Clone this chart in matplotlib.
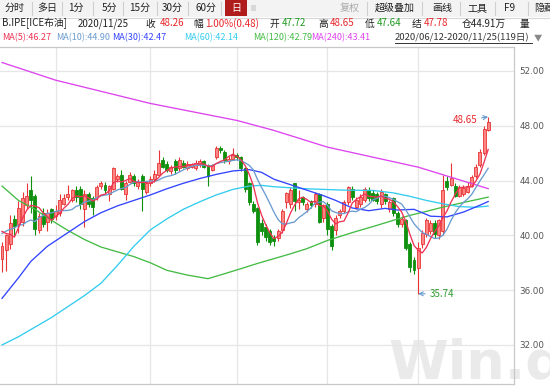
import matplotlib
matplotlib.use("Agg")
import matplotlib.pyplot as plt
from matplotlib.patches import Rectangle
import pandas as pd
import numpy as np

W, H = 550, 387
CJK = ['Noto Sans CJK SC', 'DejaVu Sans']

# ---------------- data ----------------
prior_closes = [38.32, 39.57, 39.79, 39.99, 42.30, 40.80, 41.18, 41.73, 38.55]

opens = [38.3, 38.9, 39.4, 41.2, 40.8, 41.0, 42.2, 43.3, 42.9, 40.4,
         41.6, 41.0, 41.9, 41.4, 41.6, 42.3, 42.8, 42.6, 43.3, 43.4,
         41.9, 43.0, 42.7, 42.8, 43.6, 43.7, 43.0, 43.4, 44.1, 44.4,
         43.0, 43.9, 44.3, 43.6, 44.3, 43.2, 43.8, 44.1, 44.4, 45.5,
         45.2, 44.7, 45.4, 44.9, 45.3, 44.9, 45.0, 44.9, 45.2, 45.4,
         45.1, 44.8, 45.7, 46.4, 46.1, 45.4, 45.6, 45.9, 45.7, 44.9,
         43.8, 42.3, 42.0, 40.9, 40.6, 40.3, 39.8, 39.8, 40.4, 42.4,
         42.3, 43.8, 42.4, 42.8, 41.9, 42.5, 42.3, 43.0, 41.3, 42.3,
         40.7, 40.4, 41.5, 41.8, 42.4, 43.4, 42.1, 42.3, 42.6, 43.3,
         43.1, 43.0, 42.3, 43.0, 41.9, 42.7, 41.6, 40.8, 41.1, 39.4,
         38.2, 37.6, 39.4, 40.1, 40.3, 40.9, 40.0, 40.3, 44.0, 43.7,
         43.6, 42.9, 43.0, 43.2, 43.6, 44.3, 45.1, 46.0, 47.72]
highs = [39.5, 40.1, 41.5, 41.5, 42.5, 43.2, 43.8, 44.3, 43.0, 41.6,
         42.0, 41.9, 42.0, 42.2, 43.0, 43.0, 43.7, 43.4, 43.6, 43.6,
         43.3, 43.2, 42.9, 43.7, 44.0, 43.9, 43.7, 45.0, 44.5, 44.8,
         44.0, 44.6, 44.5, 44.1, 44.5, 44.0, 44.3, 44.8, 46.2, 45.7,
         45.4, 45.1, 45.6, 45.7, 45.5, 45.4, 45.3, 45.5, 45.6, 45.5,
         45.2, 45.2, 46.5, 46.5, 46.2, 45.8, 46.4, 46.0, 45.8, 45.0,
         43.9, 42.5, 42.1, 41.2, 40.8, 40.5, 40.0, 40.5, 41.9, 43.2,
         43.5, 43.8, 43.3, 42.9, 42.4, 42.6, 43.2, 43.1, 42.3, 42.4,
         40.8, 41.5, 41.9, 42.6, 43.6, 43.6, 42.8, 43.0, 43.5, 43.5,
         43.3, 43.2, 43.4, 43.1, 42.6, 42.8, 41.8, 41.4, 41.2, 39.5,
         38.4, 39.5, 40.4, 41.3, 41.1, 41.1, 41.2, 44.4, 44.3, 45.3,
         43.8, 43.7, 43.7, 43.9, 44.4, 45.2, 46.3, 48.0, 48.65]
lows = [37.3, 37.4, 39.0, 40.0, 40.2, 40.7, 41.9, 41.6, 40.0, 40.2,
        40.6, 40.3, 40.9, 41.1, 41.4, 42.2, 42.6, 42.4, 42.4, 41.9,
        40.6, 42.1, 41.5, 42.6, 43.4, 43.1, 42.5, 43.3, 43.9, 43.3,
        42.6, 43.8, 43.6, 43.4, 41.8, 43.0, 43.6, 43.9, 44.3, 44.9,
        44.6, 44.5, 44.5, 44.7, 44.9, 44.8, 44.9, 44.8, 45.0, 44.9,
        43.6, 44.7, 45.6, 46.0, 45.3, 45.2, 45.5, 45.5, 44.7, 43.2,
        42.2, 41.6, 39.3, 40.0, 39.6, 39.3, 39.2, 39.6, 40.2, 42.0,
        42.0, 41.8, 41.9, 42.2, 41.7, 42.0, 42.1, 40.9, 41.0, 40.0,
        38.9, 40.0, 41.3, 41.6, 42.2, 42.6, 41.9, 42.1, 42.4, 42.5,
        42.5, 42.3, 42.0, 42.3, 41.7, 41.4, 40.6, 40.6, 38.9, 37.3,
        37.2, 35.74, 39.1, 39.9, 40.1, 39.8, 39.7, 40.0, 43.3, 43.6,
        42.8, 42.8, 42.9, 43.1, 43.5, 44.2, 45.0, 45.9, 47.64]
closes = [39.2, 40.0, 40.9, 40.7, 42.0, 42.7, 42.9, 42.6, 40.5, 41.4,
          40.8, 41.6, 41.2, 41.8, 42.6, 42.7, 43.0, 43.3, 42.8, 42.3,
          43.0, 42.3, 42.1, 43.5, 43.8, 43.3, 43.6, 44.9, 44.3, 43.4,
          43.8, 44.4, 43.8, 43.9, 43.4, 43.8, 44.1, 44.5, 45.3, 45.0,
          44.8, 45.0, 44.8, 45.5, 45.0, 45.2, 45.2, 45.3, 45.4, 45.0,
          44.3, 45.1, 46.4, 46.2, 45.5, 45.6, 45.9, 45.7, 44.9, 43.4,
          42.4, 41.8, 39.5, 40.3, 39.9, 39.5, 39.6, 40.3, 41.8, 43.1,
          43.3, 42.5, 42.6, 42.4, 42.3, 42.2, 43.0, 41.0, 42.2, 40.5,
          39.2, 41.3, 41.8, 42.4, 43.5, 42.8, 42.6, 42.8, 43.4, 42.7,
          42.6, 42.5, 43.2, 42.5, 42.4, 41.6, 40.8, 41.2, 39.1, 37.7,
          37.5, 39.1, 40.2, 41.1, 40.9, 40.1, 41.1, 43.3, 43.5, 44.2,
          42.9, 43.5, 43.45, 43.6, 44.25, 45.0, 46.06, 47.78, 48.26]

# long moving averages (candle index, value)
ma30_idx = [0, 4, 7, 11, 16, 20, 24, 28, 32, 36, 40, 44, 48, 52, 56, 60, 63, 66, 70, 74, 78,
            81, 85, 89, 93, 96, 100, 104, 108, 112, 116, 118]
ma30_val = [35.4, 36.9, 38.1, 39.2, 40.2, 41.0, 41.65, 42.15, 42.55, 42.95, 43.4, 43.8, 44.15,
            44.45, 44.7, 44.8, 44.6, 44.1, 43.7, 43.3, 42.9, 42.55, 42.0, 41.8, 41.97, 41.85,
            41.9, 41.4, 41.35, 41.7, 42.2, 42.47]
ma60_idx = [0, 4, 8, 12, 16, 20, 24, 28, 32, 36, 40, 44, 48, 52, 56, 60, 63, 66, 74, 83, 90,
            95, 99, 103, 107, 111, 115, 118]
ma60_val = [32.0, 32.6, 33.3, 34.0, 34.8, 35.6, 36.5, 37.8, 39.2, 40.4, 41.2, 41.9, 42.45,
            42.95, 43.35, 43.6, 43.65, 43.55, 43.4, 43.3, 43.28, 43.1, 42.85, 42.55, 42.3, 42.1,
            42.05, 42.14]
ma120_idx = [0, 4, 8, 12, 16, 20, 24, 28, 32, 36, 40, 45, 50, 54, 58, 62, 66, 70, 74, 79,
             85, 91, 95, 99, 103, 107, 112, 118]
ma120_val = [43.6, 42.55, 41.9, 41.1, 40.36, 39.7, 39.15, 38.8, 38.45, 38.0, 37.45, 37.1, 36.84,
             37.2, 37.57, 37.95, 38.3, 38.65, 39.03, 39.63, 40.2, 40.73, 41.1, 41.46, 41.75,
             42.06, 42.4, 42.79]
ma240_idx = [0, 13, 36, 57, 66, 79, 101, 118]
ma240_val = [52.62, 51.33, 49.63, 48.39, 47.66, 46.44, 44.98, 43.41]

month_start_idx = [13, 36, 57, 79, 101]
y_ticks = [32, 36, 40, 44, 48, 52]

tabs = ['分时', '多日', '1分', '5分', '15分', '30分', '60分', '日']
right_tabs = ['复权', '超级叠加', '画线', '工具', 'F9', '隐藏']

# ---------------- figure ----------------
fig = plt.figure(figsize=(W / 100, H / 100), dpi=100)
fig.patch.set_facecolor('white')


def fx(x):
    return x / W


def fy(y):
    return 1 - y / H


def T(x, y, s, color='#222222', size=7.0, ha='left', **kw):
    fig.text(fx(x), fy(y), s, color=color, fontsize=size, ha=ha, va='center',
             family=CJK, **kw)


# toolbar
fig.patches.append(Rectangle((0, fy(17)), 1, 17 / H, transform=fig.transFigure,
                             facecolor='#f3f3f3', edgecolor='none', zorder=0))
fig.add_artist(plt.Line2D([0, 1], [fy(17.5), fy(17.5)], transform=fig.transFigure,
                          color='#d6d6d6', lw=0.8))
tab_cx = [15, 47, 76, 110, 140, 172, 206, 236]
for s, cx in zip(tabs, tab_cx):
    if s == '日':
        fig.patches.append(Rectangle((fx(225), fy(16)), 22 / W, 16 / H, transform=fig.transFigure,
                                     facecolor='#b01c1c', edgecolor='none', zorder=1))
        T(cx, 8, s, color='white', size=7.2, ha='center', zorder=2)
    else:
        T(cx, 8, s, color='#222222', size=7.2, ha='center')
for sx in [32, 62, 93, 123, 157, 188, 221, 367, 422, 460, 495, 528]:
    fig.add_artist(plt.Line2D([fx(sx), fx(sx)], [fy(2), fy(15)], transform=fig.transFigure,
                              color='#cfcfcf', lw=0.8))
fig.patches.append(Rectangle((fx(251), fy(11)), 5 / W, 6 / H, transform=fig.transFigure,
                             facecolor='#d8d8d8', edgecolor='none'))
rt_cx = [350, 395, 442, 477, 510]
for s, cx in zip(right_tabs[:5], rt_cx):
    T(cx, 8, s, color='#aaaaaa' if s == '复权' else '#222222', size=7.2, ha='center')
T(534, 8, right_tabs[5], size=7.2)

# info row
red, green = '#e8262a', '#1f9a1f'
info = [(2, 'B.IPE[ICE布油]', '#222222'), (78, '2020/11/25', '#222222'), (145, '收', '#222222'),
        (160, f'{closes[-1]:.2f}', red), (193, '幅', '#222222'), (205, '1.00%(0.48)', red),
        (269, '开', '#222222'), (282, f'{opens[-1]:.2f}', green), (318, '高', '#222222'),
        (330, f'{highs[-1]:.2f}', red), (365, '低', '#222222'), (377, f'{lows[-1]:.2f}', green),
        (412, '结', '#222222'), (424, f'{closes[-2]:.2f}', red), (462, '仓44.91万', '#222222'),
        (520, '量', '#222222')]
for x, s, c in info:
    T(x, 23.5, s, color=c, size=7.0)

# MA row
c_ma5, c_ma10, c_ma30, c_ma60, c_ma120, c_ma240 = '#ee3355', '#6a9bcf', '#3344ff', '#33ccee', '#44bb44', '#dd44ee'
all_close = pd.Series(prior_closes + closes)
ma5 = all_close.rolling(5).mean().iloc[len(prior_closes):].to_numpy()
ma10 = all_close.rolling(10).mean().iloc[len(prior_closes):].to_numpy()
ma_row = [(2, f'MA(5):{ma5[-1]:.2f}', c_ma5), (56, f'MA(10):{ma10[-1]:.2f}', c_ma10),
          (112, f'MA(30):{ma30_val[-1]:.2f}', c_ma30), (184, f'MA(60):{ma60_val[-1]:.2f}', c_ma60),
          (253, f'MA(120):{ma120_val[-1]:.2f}', c_ma120), (311, f'MA(240):{ma240_val[-1]:.2f}', c_ma240)]
for x, s, c in ma_row:
    T(x, 37.5, s, color=c, size=6.5)
T(395, 37.5, '2020/06/12-2020/11/25(119日)', color='#333333', size=6.8)
fig.add_artist(plt.Line2D([fx(395), fx(532)], [fy(43), fy(43)], transform=fig.transFigure,
                          color='#333333', lw=0.7))
T(534, 37.5, '▼', color='#888888', size=6.0)

# watermark
fig.text(fx(388), fy(378), 'Win.d', fontsize=39, fontweight='bold', color='#eaeaea',
         family='DejaVu Sans', ha='left', va='baseline', zorder=0)

# ---------------- chart ----------------
ax = fig.add_axes([0, fy(384), fx(514), (384 - 47) / H])
ax.set_zorder(1)
ax.patch.set_alpha(0)
n = len(closes)
idx = np.arange(n)
ax.set_xlim(-0.485, 124.27)
ax.set_ylim(29.15, 53.75)

ax.spines['left'].set_visible(False)
for s in ['right', 'top', 'bottom']:
    ax.spines[s].set_color('#c8c8c8')
    ax.spines[s].set_linewidth(0.9)

ax.set_xticks([])
ax.yaxis.tick_right()
ax.set_yticks(y_ticks)
ax.set_yticklabels([f'{v:.2f}' for v in y_ticks], fontsize=6.3, color='#555555', family='DejaVu Sans')
ax.tick_params(axis='y', length=0, pad=4)
for v in y_ticks:
    ax.axhline(v, color='#e6e6e6', lw=0.9, zorder=0)
for m in month_start_idx:
    ax.axvline(m, color='#e6e6e6', lw=0.9, zorder=0)

o = np.array(opens); h = np.array(highs); l = np.array(lows); c = np.array(closes)
up = c >= o
up_face, up_edge, dn_col = '#ff8585', '#e83434', '#0e900e'
ax.vlines(idx[up], l[up], h[up], color=up_edge, lw=0.8, zorder=2)
ax.vlines(idx[~up], l[~up], h[~up], color=dn_col, lw=0.8, zorder=2)
body_lo = np.minimum(o, c)
body_h = np.maximum(np.abs(c - o), 0.06)
ax.bar(idx[up], body_h[up], bottom=body_lo[up], width=0.72, facecolor=up_face,
       edgecolor=up_edge, linewidth=0.6, zorder=3)
ax.bar(idx[~up], body_h[~up], bottom=body_lo[~up], width=0.72, facecolor=dn_col,
       edgecolor=dn_col, linewidth=0.6, zorder=3)

lw = 0.95
ax.plot(ma240_idx, ma240_val, color=c_ma240, lw=lw, zorder=4)
ax.plot(ma120_idx, ma120_val, color=c_ma120, lw=lw, zorder=4)
ax.plot(ma60_idx, ma60_val, color=c_ma60, lw=lw, zorder=4)
ax.plot(ma30_idx, ma30_val, color=c_ma30, lw=lw, zorder=4)
ax.plot(idx, ma10, color=c_ma10, lw=lw, zorder=4)
ax.plot(idx, ma5, color=c_ma5, lw=lw, zorder=4)

hi_i = int(np.argmax(h)); lo_i = int(np.argmin(l))
ax.annotate(f'{h[hi_i]:.2f}', xy=(hi_i, h[hi_i]), xytext=(hi_i - 2.6, h[hi_i] - 0.25),
            ha='right', va='center', fontsize=7, color='#e8262a', family=CJK,
            arrowprops=dict(arrowstyle='->', color='#6a9bcf', lw=0.8, shrinkA=1, shrinkB=0))
ax.annotate(f'{l[lo_i]:.2f}', xy=(lo_i, l[lo_i]), xytext=(lo_i + 2.7, l[lo_i] - 0.02),
            ha='left', va='center', fontsize=7, color='#2e9a2e', family=CJK,
            arrowprops=dict(arrowstyle='->', color='#6a9bcf', lw=0.8, shrinkA=1, shrinkB=0))

fig.savefig('out.png', dpi=100)
